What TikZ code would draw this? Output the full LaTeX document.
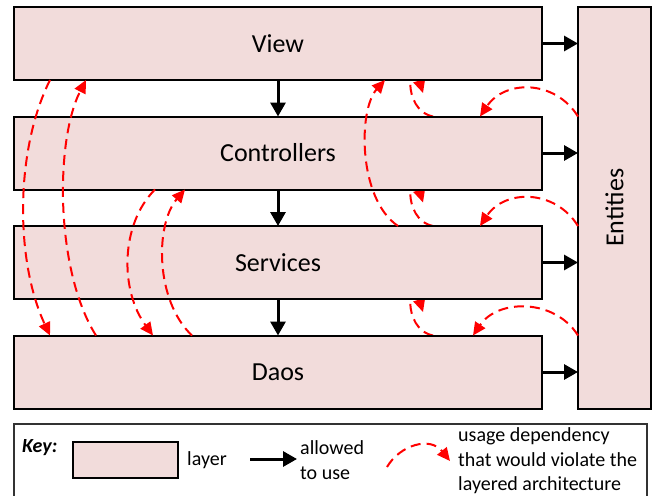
\documentclass[tikz,border=0pt]{standalone}
\usepackage{fontspec}
\setmainfont{Carlito}
\usetikzlibrary{positioning,arrows.meta,backgrounds}
\definecolor{layfill}{RGB}{242,220,219}
\tikzset{
  lay/.style={draw=black, fill=layfill, line width=2pt, outer sep=0pt, minimum width=528pt, minimum height=73pt, font=\fontsize{26}{31}\selectfont},
  ok/.style={-{Triangle[length=14pt,width=15pt]}, line width=3pt},
  bad/.style={-{Triangle[length=13pt,width=12pt]}, red, line width=2pt, dash pattern=on 10pt off 6pt},
  keytxt/.style={font=\fontsize{20}{24.5}\selectfont, inner sep=0pt, anchor=west, align=left},
}
\begin{document}
\begin{tikzpicture}[x=1pt, y=-1pt]
\useasboundingbox (0,0) rectangle (652,495);
% layers
\node[lay] (view) at (278,43.5) {View};
\node[lay, below=36.5pt of view] (ctrl) {Controllers};
\node[lay, below=36.5pt of ctrl] (serv) {Services};
\node[lay, below=36.5pt of serv] (daos) {Daos};
\node[lay, minimum width=73pt, minimum height=401.5pt, anchor=north west] (ent) at ([xshift=36pt]view.north east) {\rotatebox{90}{Entities}};
% allowed uses
\draw[ok] (view) -- (ctrl);
\draw[ok] (ctrl) -- (serv);
\draw[ok] (serv) -- (daos);
\foreach \b in {view,ctrl,serv,daos}
  \draw[ok] (\b.east) -- (\b.east -| ent.west);
% forbidden uses
\draw[bad] ([xshift=36pt]view.south west) .. controls +(-35,70) and +(-35,-75) .. ([xshift=36pt]daos.north west);
\draw[bad] ([xshift=82pt]daos.north west) .. controls +(-41,-65) and +(-31,60) .. ([xshift=72pt]view.south west);
\draw[bad] ([xshift=141pt]ctrl.south west) .. controls +(-35,35) and +(-33,-45) .. ([xshift=139pt]daos.north west);
\draw[bad] ([xshift=178pt]daos.north west) .. controls +(-37,-35) and +(-30,35) .. ([xshift=171pt]ctrl.south west);
\draw[bad] ([xshift=384pt]serv.north west) .. controls +(-40,-27) and +(-27,30) .. ([xshift=371pt]view.south west);
\foreach \b/\d in {ctrl/466, serv/466, daos/459}
  \draw[bad] (ent.west |- \b.north) .. controls +(-23,-37) and +(25,-37) .. ([xshift=\d pt]\b.north west);
% one layer up: the loop runs behind the upper box
\begin{scope}[on background layer]
\foreach \lo/\up in {ctrl/view, serv/ctrl, daos/serv}
  \draw[bad] ([xshift=419pt]\lo.north west) .. controls +(-33,-7) and +(-13,-42) .. ([shift={(409,13)}]\up.south west);
\end{scope}
% key
\draw[line width=1.5pt, draw=black!80] (14,500) -- (14,424) -- (647,424) -- (647,500);
\node[keytxt, font=\fontsize{20}{24}\selectfont\bfseries\itshape] (key) at (22,448) {Key:};
\node[lay, minimum width=105pt, minimum height=36pt, line width=1.5pt] (klay) at (125.5,460) {};
\node[keytxt, right=9pt of klay] (klab) {layer};
\node[keytxt] (kuse) at (300,460) {allowed\\to use};
\coordinate (kok) at (250,459);
\draw[ok] (kok) -- ([xshift=-3pt]kuse.west |- kok);
\node[keytxt] (kdep) at (458,461) {usage dependency\\that would violate the\\layered architecture};
\coordinate (kbad) at (387,467);
\draw[bad] (kbad) .. controls +(13,-22) and +(-20,-25) .. ([xshift=-8pt]kdep.west);
\end{tikzpicture}
\end{document}
